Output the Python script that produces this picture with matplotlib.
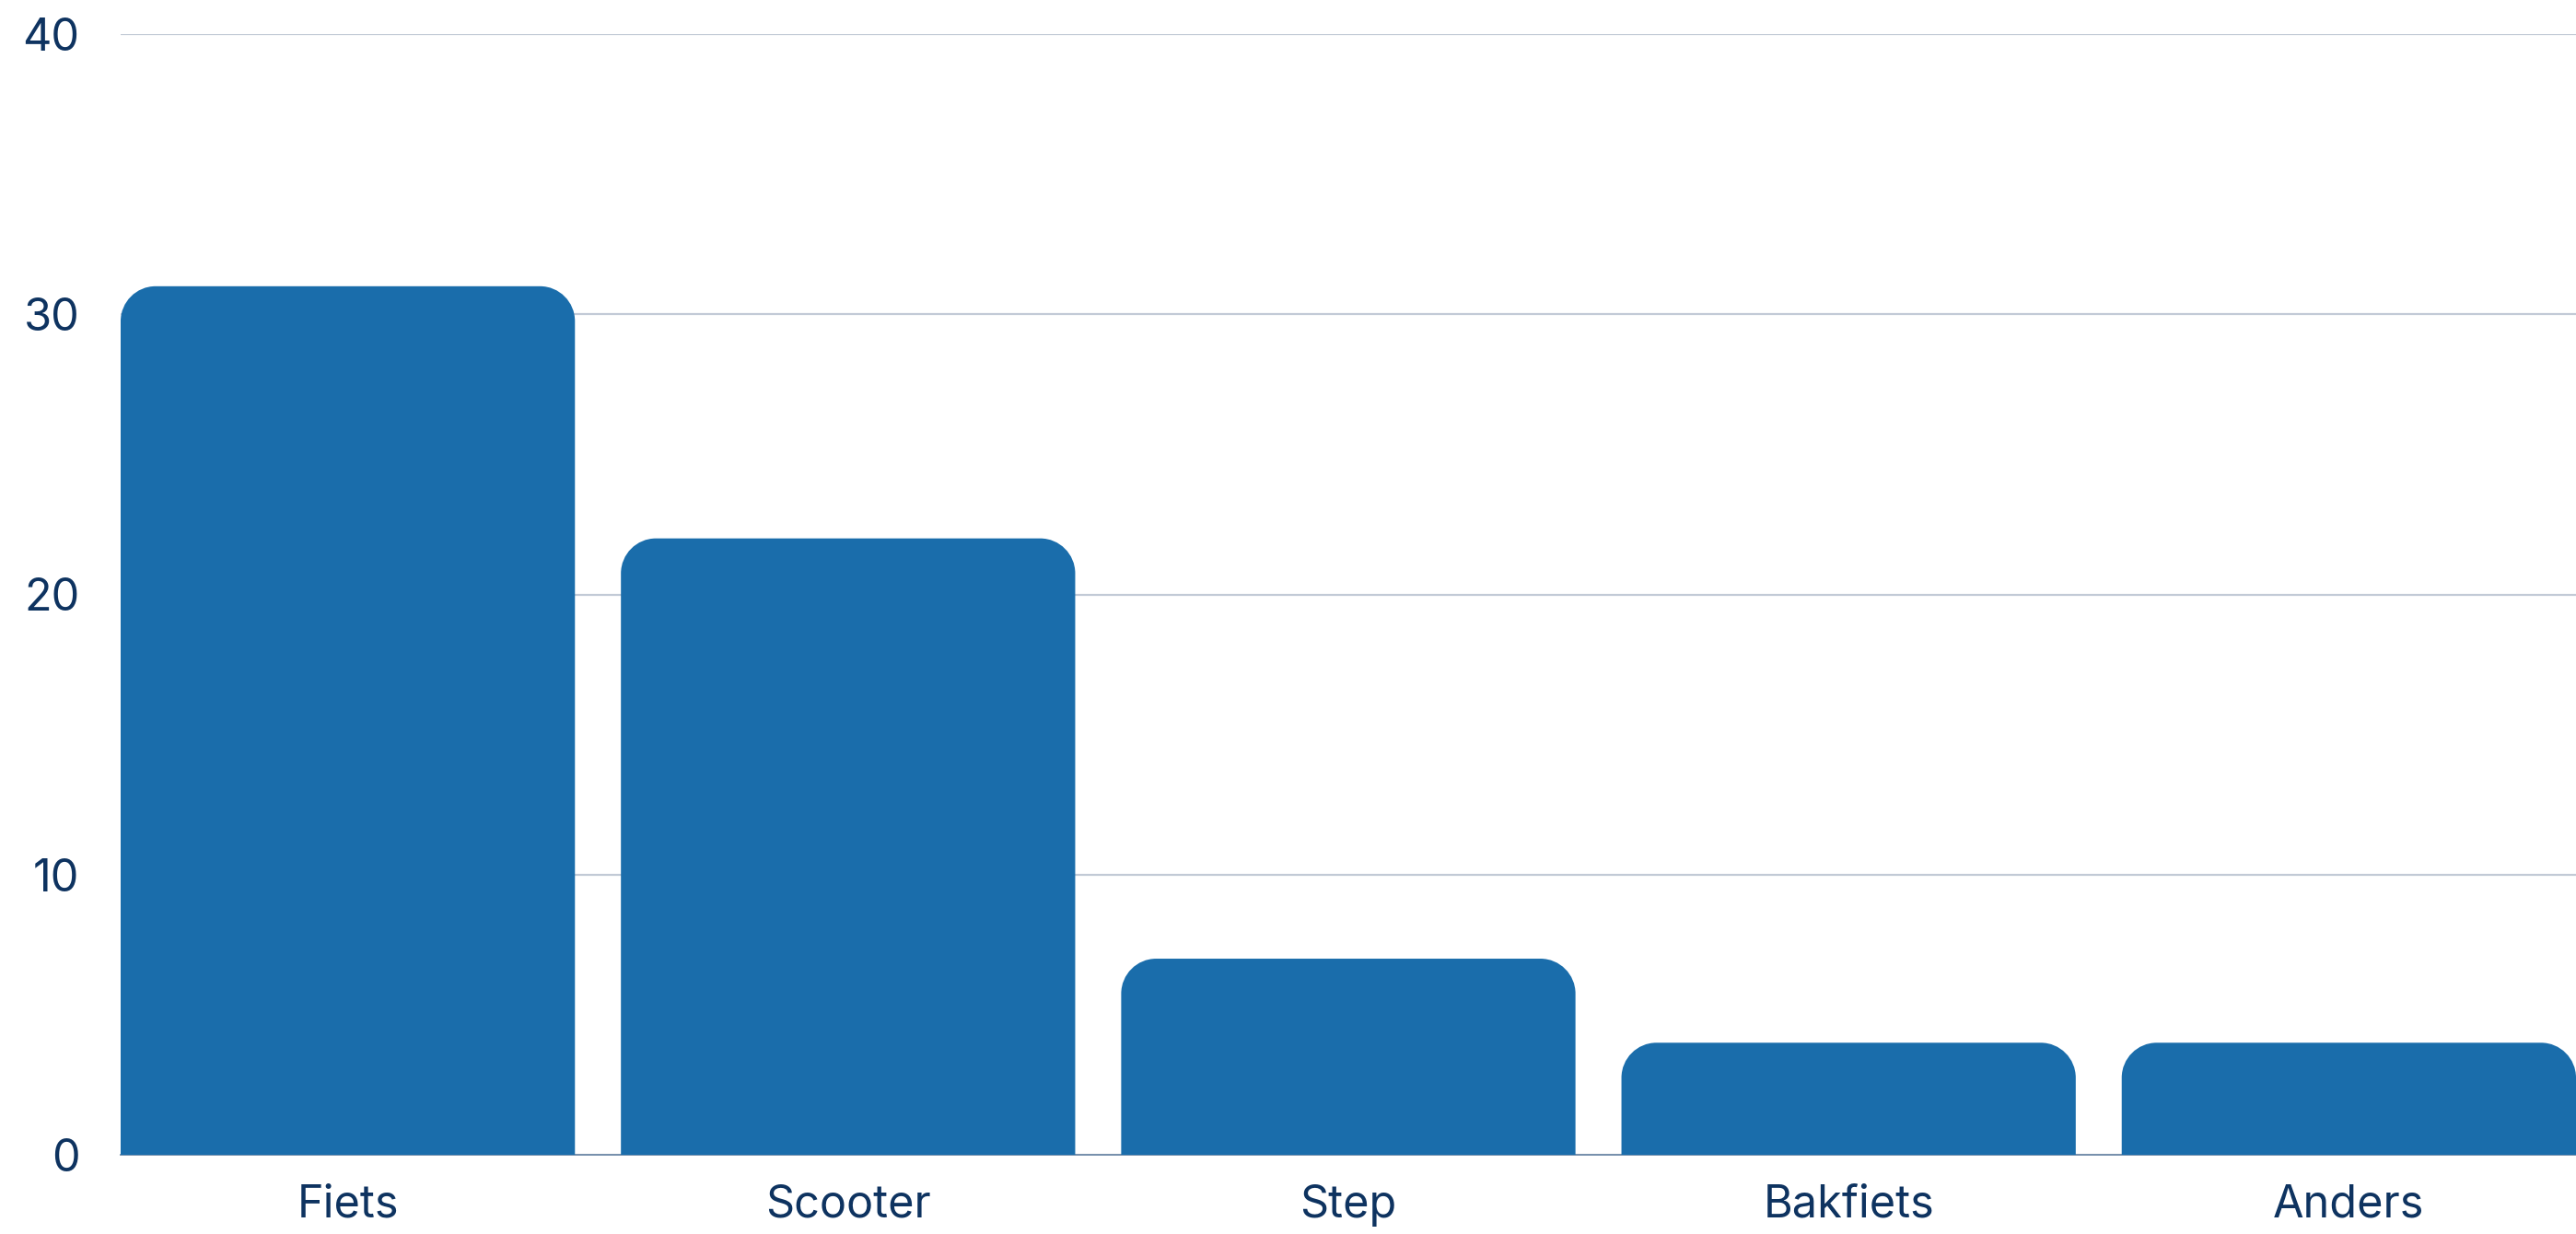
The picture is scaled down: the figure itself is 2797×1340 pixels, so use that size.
import numpy as np
import matplotlib.pyplot as plt
from matplotlib.path import Path
from matplotlib.patches import PathPatch

categories = ['Fiets', 'Scooter', 'Step', 'Bakfiets', 'Anders']
values = [31, 22, 7, 4, 4]
yticks = [0, 10, 20, 30, 40]

bar_color = '#1a6dab'
text_color = '#0e3360'
grid_color = '#c2cad6'

W, H, DPI = 2797, 1340, 100
fig = plt.figure(figsize=(W / DPI, H / DPI), dpi=DPI)
ax = fig.add_axes([131 / W, 1 - 1254 / H, 1 - 131 / W, (1254 - 37) / H])

x = np.arange(len(categories))
bw = 494 / 544
bars = ax.bar(x, values, width=bw, color=bar_color, zorder=2)
ax.set_xlim(-bw / 2, len(categories) - 1 + bw / 2)
ax.set_ylim(0, 40)

# afgeronde bovenhoeken (straal in pixels -> data-eenheden)
r_px = 38
rx = r_px / 544
ry = r_px / ((1254 - 37) / 40)
k = 0.5523
for b in bars:
    x0, y0 = b.get_x(), b.get_y()
    w, h = b.get_width(), b.get_height()
    x1, y1 = x0 + w, y0 + h
    verts = [
        (x0, y0), (x0, y1 - ry),
        (x0, y1 - ry + k * ry), (x0 + rx - k * rx, y1), (x0 + rx, y1),
        (x1 - rx, y1),
        (x1 - rx + k * rx, y1), (x1, y1 - ry + k * ry), (x1, y1 - ry),
        (x1, y0), (x0, y0),
    ]
    codes = [Path.MOVETO, Path.LINETO,
             Path.CURVE4, Path.CURVE4, Path.CURVE4,
             Path.LINETO,
             Path.CURVE4, Path.CURVE4, Path.CURVE4,
             Path.LINETO, Path.CLOSEPOLY]
    b.set_visible(False)
    ax.add_patch(PathPatch(Path(verts, codes), facecolor=bar_color,
                           edgecolor='none', zorder=2, clip_on=False))

ax.set_yticks(yticks)
ax.set_xticks(x)
ax.set_xticklabels(categories)
ax.yaxis.grid(True, color=grid_color, linewidth=1.6, zorder=0)
ax.set_axisbelow(True)

for s in ['top', 'right', 'left']:
    ax.spines[s].set_visible(False)
ax.spines['bottom'].set_color('#6f8aa8')
ax.spines['bottom'].set_linewidth(1.3)
ax.spines['bottom'].set_zorder(1)

ax.tick_params(axis='both', length=0, labelsize=35, labelcolor=text_color)
ax.tick_params(axis='y', pad=32)
ax.tick_params(axis='x', pad=23)
for lbl in ax.get_xticklabels() + ax.get_yticklabels():
    lbl.set_family(['Inter', 'DejaVu Sans'])

fig.savefig('out.png', dpi=DPI)
